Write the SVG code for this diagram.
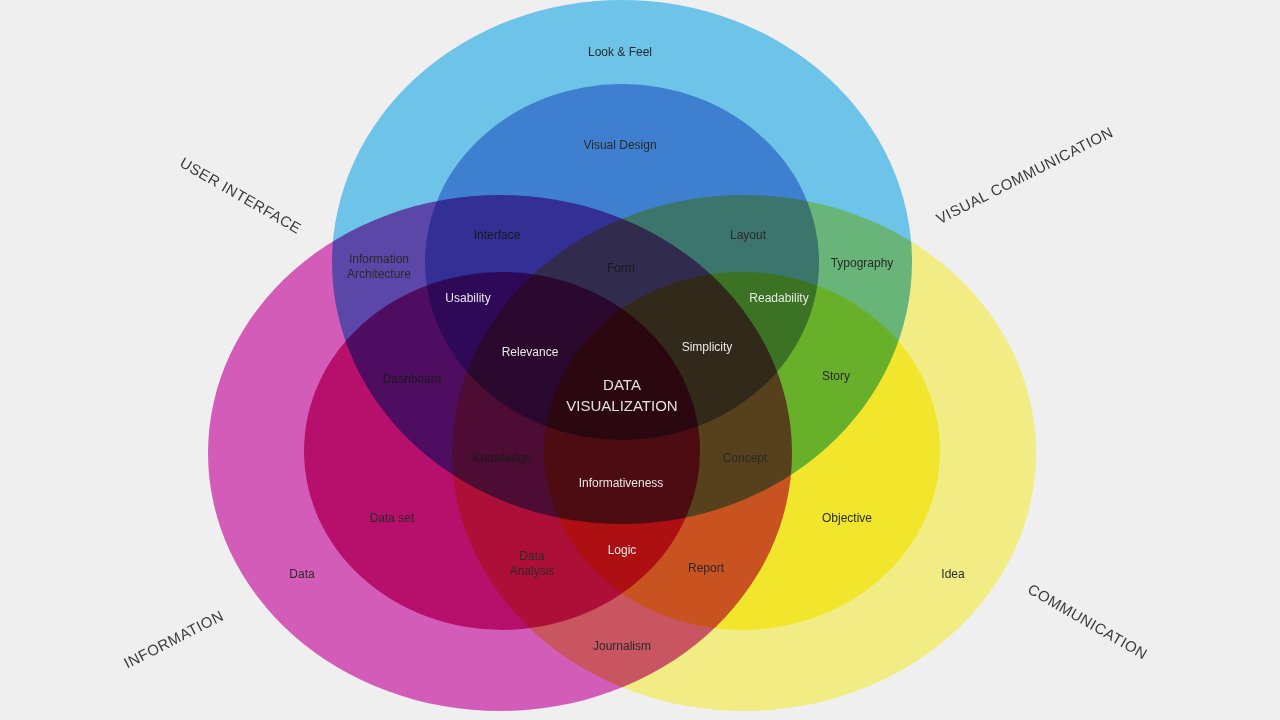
<svg xmlns="http://www.w3.org/2000/svg" width="1280" height="720" viewBox="0 0 1280 720">
<style>
.c{mix-blend-mode:multiply}
text{font-family:"Liberation Sans",Arial,sans-serif;font-size:12px;text-anchor:middle;fill:#2a2a2a}
.w{fill:#e8e8e8}
.d{fill:#1a1a1a}
.big{font-size:15px;fill:#3a3a3a;letter-spacing:0.5px}
.dv{font-size:15px;fill:#e0e0e0}
</style>
<rect width="1280" height="720" fill="#efefef"/>
<g id="circles" style="isolation:isolate">
<ellipse id="cyan-outer" class="c" cx="622" cy="262" rx="290" ry="262" fill="#6ec3e8"/>
<ellipse id="magenta-outer" class="c" cx="500" cy="453" rx="292" ry="258" fill="#d35cb8"/>
<ellipse id="yellow-outer" class="c" cx="744" cy="453" rx="292" ry="258" fill="#f2ec85"/>
<ellipse id="blue-inner" class="c" cx="622" cy="262" rx="197" ry="178" fill="#8fa6e4"/>
<ellipse id="magenta-inner" class="c" cx="502" cy="451" rx="198" ry="179" fill="#de2c96"/>
<ellipse id="yellow-inner" class="c" cx="742" cy="451" rx="198" ry="179" fill="#fff955"/>
</g>
<g id="labels">
<text x="620" y="56">Look &amp; Feel</text>
<text x="620" y="149">Visual Design</text>
<text x="497" y="239" class="d">Interface</text>
<text x="748" y="239">Layout</text>
<text x="621" y="272" class="d">Form</text>
<text x="379" y="263">Information</text>
<text x="379" y="278">Architecture</text>
<text x="862" y="267">Typography</text>
<text x="468" y="302" class="w">Usability</text>
<text x="779" y="302" class="w">Readability</text>
<text x="530" y="356" class="w">Relevance</text>
<text x="707" y="351" class="w">Simplicity</text>
<text x="412" y="383" class="d">Dashboard</text>
<text x="836" y="380">Story</text>
<text x="622" y="390" class="dv">DATA</text>
<text x="622" y="411" class="dv">VISUALIZATION</text>
<text x="502" y="462" class="d">Knowledge</text>
<text x="745" y="462">Concept</text>
<text x="621" y="487" class="w">Informativeness</text>
<text x="392" y="522">Data set</text>
<text x="847" y="522">Objective</text>
<text x="622" y="554" class="w">Logic</text>
<text x="532" y="560">Data</text>
<text x="532" y="575">Analysis</text>
<text x="706" y="572">Report</text>
<text x="302" y="578">Data</text>
<text x="953" y="578">Idea</text>
<text x="622" y="650">Journalism</text>
<text class="big" transform="translate(238,200) rotate(30)">USER INTERFACE</text>
<text class="big" transform="translate(1027,180) rotate(-27)">VISUAL COMMUNICATION</text>
<text class="big" transform="translate(176,644) rotate(-27)">INFORMATION</text>
<text class="big" transform="translate(1085,626) rotate(30)">COMMUNICATION</text>
</g>
</svg>
